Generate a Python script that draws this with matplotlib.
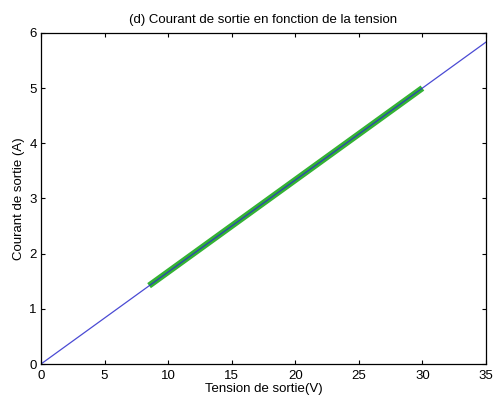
import matplotlib
matplotlib.use("Agg")
import matplotlib.pyplot as plt

plt.rcParams['font.family'] = ['Liberation Sans', 'DejaVu Sans']

# Data
voltage_ref = [0, 35]
current_ref = [0, 5.833]
voltage_meas = [8.5, 30]
current_meas = [1.42, 5.0]
xticks = [0, 5, 10, 15, 20, 25, 30, 35]
yticks = [0, 1, 2, 3, 4, 5, 6]

fig = plt.figure(figsize=(4.95, 3.98), dpi=100)
ax = fig.add_axes([0.0828, 0.0854, 0.899, 0.832])

ax.plot(voltage_meas, current_meas, color='#33b233', linewidth=4.5, solid_capstyle='butt')
ax.plot(voltage_ref, current_ref, color='#2b2bcc', linewidth=0.9, alpha=0.85)

ax.set_xlim(0, 35)
ax.set_ylim(0, 6)
ax.set_xticks(xticks)
ax.set_yticks(yticks)
ax.tick_params(direction='in', top=True, right=True, labelsize=9.5, length=3, width=0.8)
ax.tick_params(axis='x', pad=4)
ax.tick_params(axis='y', pad=3)
for s in ax.spines.values():
    s.set_linewidth(0.9)

ax.set_title('(d) Courant de sortie en fonction de la tension', fontsize=9.5, pad=7)
ax.set_xlabel('Tension de sortie(V)', fontsize=9.5, labelpad=1)
ax.set_ylabel('Courant de sortie (A)', fontsize=9.5, labelpad=3)

fig.savefig('out.png', dpi=100)
